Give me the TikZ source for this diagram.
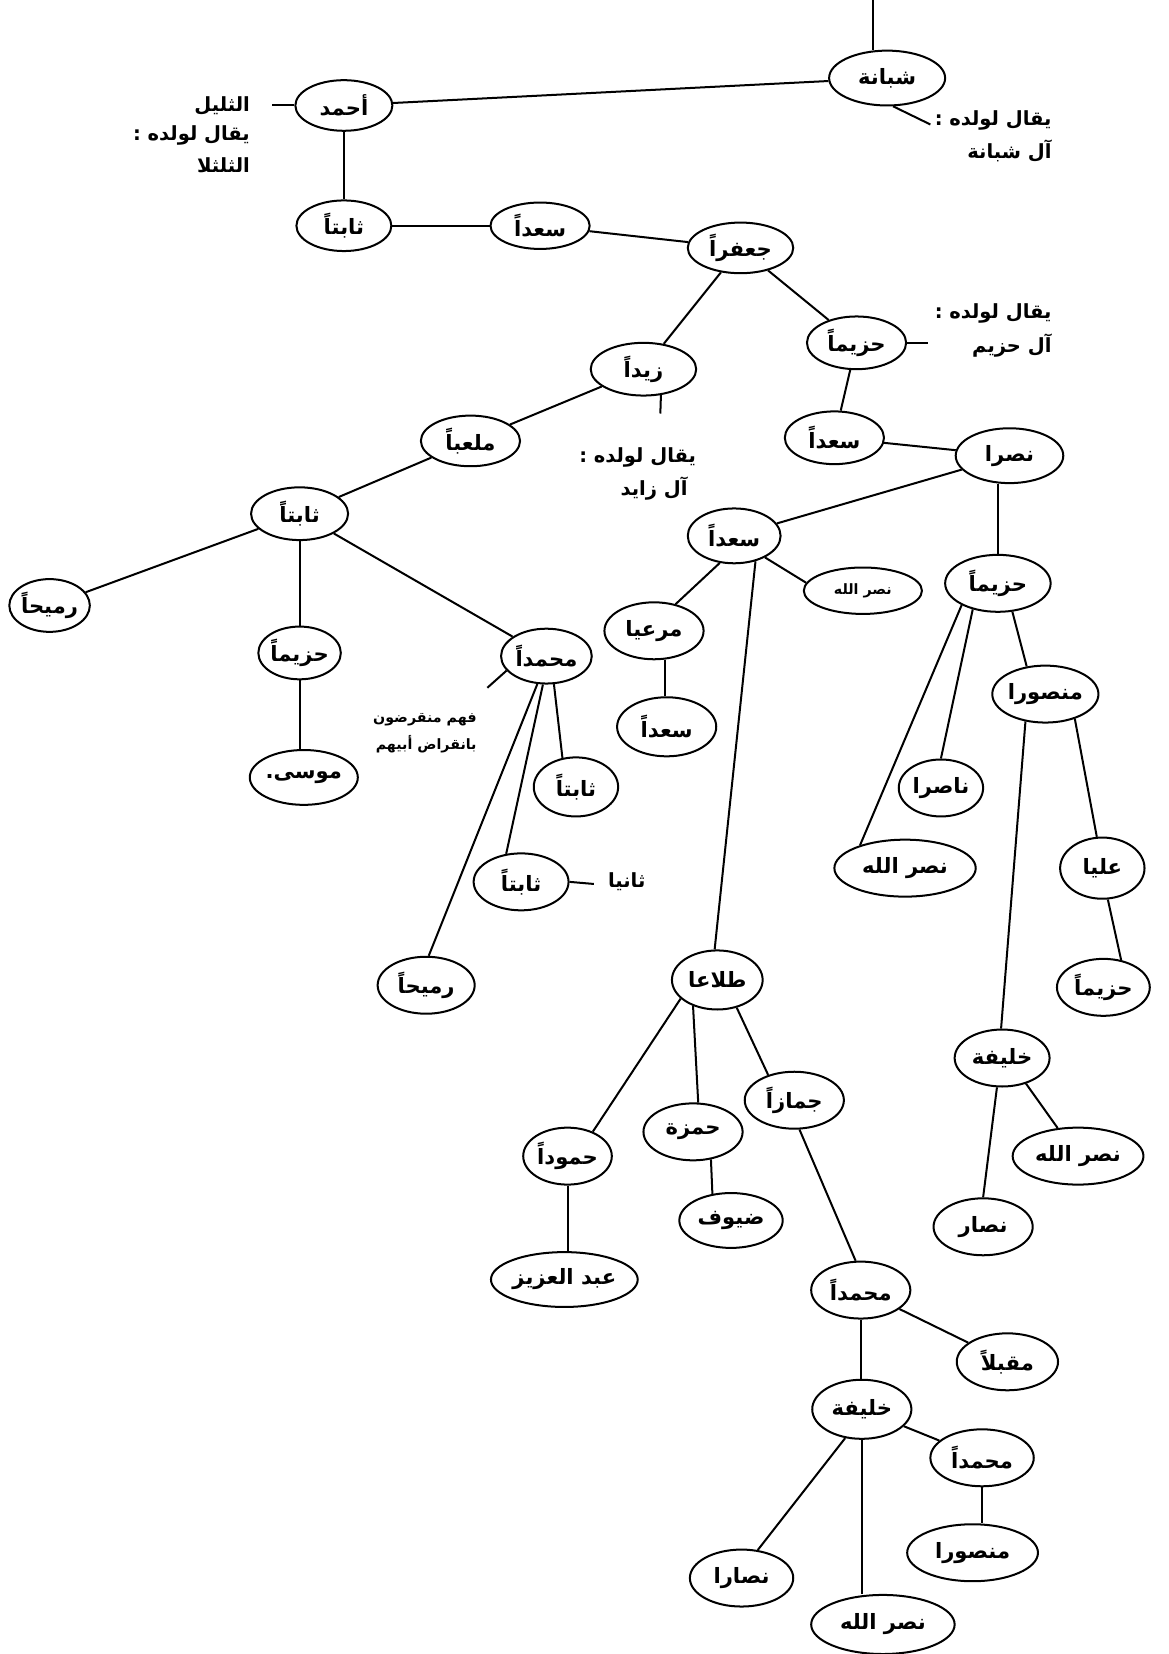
\documentclass[tikz,border=0pt]{standalone}
\usepackage{fontspec}
\usetikzlibrary{shapes.geometric}
\TeXXeTstate=1
\newfontfamily\arabicfont[Script=Arabic]{DejaVu Sans}
\newcommand\artx[1]{\beginR #1\endR}
\tikzset{
  pn/.style={draw, ellipse, line width=1.9pt, inner sep=0pt, font=\arabicfont\bfseries\fontsize{20}{23}\selectfont},
  sz/.style 2 args={minimum width=#1pt, minimum height=#2pt},
  ln/.style={line width=1.9pt},
  note/.style={anchor=east, inner sep=0pt, font=\arabicfont\bfseries\fontsize{18.5}{22}\selectfont},
  smallnote/.style={anchor=east, inner sep=0pt, font=\arabicfont\bfseries\fontsize{13.5}{16}\selectfont},
}
\begin{document}
\begin{tikzpicture}[x=1pt, y=-1pt]
\useasboundingbox[fill=white] (0,0) rectangle (1108,1568);

% nodes
\node[pn, sz={110}{52}] (shabana) at (841,74) {\artx{شبانة}};
\node[pn, sz={92}{48}] (ahmad) at (326,100) {\artx{أحمد}};
\node[pn, sz={90}{48}] (thabitA) at (326,214) {\artx{ثابتاً}};
\node[pn, sz={94}{44}] (saadA) at (512,214) {\artx{سعداً}};
\node[pn, sz={100}{48}] (jafar) at (702,235) {\artx{جعفراً}};
\node[pn, sz={94}{50}] (hazimA) at (812,325) {\artx{حزيماً}};
\node[pn, sz={100}{50}] (zaid) at (610,350) {\artx{زيداً}};
\node[pn, sz={94}{48}] (malab) at (446,418) {\artx{ملعباً}};
\node[pn, sz={92}{50}] (thabitB) at (284,487) {\artx{ثابتاً}};
\node[pn, sz={74}{50}] (rumihA) at (47,574) {\artx{رميحاً}};
\node[pn, sz={76}{50}] (hazimB) at (284,619) {\artx{حزيماً}};
\node[pn, sz={80}{52}] (musa) at (288,737) {\artx{موسى.}};
\node[pn, sz={86}{52}] (muhA) at (518,622) {\artx{محمداً}};
\node[pn, sz={80}{56}] (thabitC) at (546,746) {\artx{ثابتاً}};
\node[pn, sz={90}{54}] (thabitD) at (494,836) {\artx{ثابتاً}};
\node[pn, sz={92}{54}] (rumihB) at (404,934) {\artx{رميحاً}};
\node[pn, sz={94}{50}] (saadB) at (791,415) {\artx{سعداً}};
\node[pn, sz={102}{52}] (nasr) at (957,432) {\artx{نصرا}};
\node[pn, sz={88}{52}] (saadC) at (696,508) {\artx{سعداً}};
\node[pn, sz={112}{44}, font=\arabicfont\bfseries\fontsize{13.5}{16}\selectfont] (nasrallahA) at (818,560) {\artx{نصر الله}};
\node[pn, sz={100}{54}] (hazimC) at (946,553) {\artx{حزيماً}};
\node[pn, sz={94}{54}] (mari) at (620,598) {\artx{مرعيا}};
\node[pn, sz={94}{56}] (saadD) at (632,689) {\artx{سعداً}};
\node[pn, sz={100}{54}] (mansurA) at (991,658) {\artx{منصورا}};
\node[pn, sz={80}{54}] (nasir) at (892,747) {\artx{ناصرا}};
\node[pn, sz={134}{54}] (nasrallahB) at (858,823) {\artx{نصر الله}};
\node[pn, sz={80}{58}] (ali) at (1045,823) {\artx{عليا}};
\node[pn, sz={88}{54}] (hazimD) at (1046,936) {\artx{حزيماً}};
\node[pn, sz={90}{54}] (khalifaA) at (950,1003) {\artx{خليفة}};
\node[pn, sz={124}{54}] (nasrallahC) at (1022,1096) {\artx{نصر الله}};
\node[pn, sz={94}{54}] (nassar) at (932,1163) {\artx{نصار}};
\node[pn, sz={86}{56}] (talla) at (680,929) {\artx{طلاعا}};
\node[pn, sz={84}{54}] (hamud) at (538,1096) {\artx{حموداً}};
\node[pn, sz={128}{52}] (abdulaziz) at (535,1213) {\artx{عبد العزيز}};
\node[pn, sz={94}{54}] (hamza) at (657,1073) {\artx{حمزة}};
\node[pn, sz={98}{52}] (dhuyuf) at (693,1157) {\artx{ضيوف}};
\node[pn, sz={94}{54}] (jammaz) at (753,1043) {\artx{جمازاً}};
\node[pn, sz={94}{54}] (muhB) at (816,1223) {\artx{محمداً}};
\node[pn, sz={96}{54}] (muqbil) at (955,1291) {\artx{مقبلاً}};
\node[pn, sz={94}{56}] (khalifaB) at (817,1336) {\artx{خليفة}};
\node[pn, sz={98}{54}] (muhC) at (931,1382) {\artx{محمداً}};
\node[pn, sz={124}{54}] (mansurB) at (922,1472) {\artx{منصورا}};
\node[pn, sz={98}{54}] (nassara) at (703,1496) {\artx{نصارا}};
\node[pn, sz={136}{56}] (nasrallahD) at (837,1540) {\artx{نصر الله}};

% annotations
\node[note] (nA1) at (237,100) {\artx{الثليل}};
\node[note] (nA2) at (237,128) {\artx{يقال لولده :}};
\node[note] (nA3) at (237,157) {\artx{الثلثلا}};
\node[note] (nB1) at (997,114) {\artx{يقال لولده :}};
\node[note] (nB2) at (997,143) {\artx{آل شبانة}};
\node[note] (nC1) at (997,297) {\artx{يقال لولده :}};
\node[note] (nC2) at (997,328) {\artx{آل حزيم}};
\node[note] (nD1) at (660,434) {\artx{يقال لولده :}};
\node[note] (nD2) at (652,463) {\artx{آل زايد}};
\node[smallnote] (nE1) at (452,682) {\artx{فهم منقرضون}};
\node[smallnote] (nE2) at (452,705) {\artx{بانقراض أبيهم}};
\node[note] (nF) at (612,836) {\artx{ثانيا}};

% tick coordinates
\coordinate (top) at (828,0);
\coordinate (tA) at (258,100);
\coordinate (tB) at (882,118);
\coordinate (tC) at (880,325);
\coordinate (tD) at (626,392);
\coordinate (tE) at (462,652);
\coordinate (tF) at (563,838);

% connectors
\draw[ln] (top) -- (top |- shabana.north);
\draw[ln] (ahmad) -- (shabana);
\draw[ln] (tA) -- (ahmad.west);
\draw[ln] (shabana.-78) -- (tB);
\draw[ln] (ahmad) -- (thabitA);
\draw[ln] (thabitA) -- (saadA);
\draw[ln] (saadA) -- (jafar);
\draw[ln] (jafar) -- (hazimA);
\draw[ln] (jafar) -- (zaid);
\draw[ln] (hazimA.east) -- (tC);
\draw[ln] (zaid.-56) -- (tD);
\draw[ln] (zaid) -- (malab);
\draw[ln] (malab) -- (thabitB);
\draw[ln] (thabitB) -- (rumihA);
\draw[ln] (thabitB) -- (hazimB);
\draw[ln] (thabitB) -- (muhA);
\draw[ln] (hazimB.south) -- (hazimB.south |- musa.north);
\draw[ln] (muhA.-160) -- (tE);
\draw[ln] (muhA.-75) -- (thabitC.115);
\draw[ln] (muhA.-97) -- (thabitD.118);
\draw[ln] (muhA.-108) -- (rumihB.85);
\draw[ln] (thabitD.east) -- (tF);
\draw[ln] (hazimA) -- (saadB);
\draw[ln] (saadB) -- (nasr);
\draw[ln] (nasr) -- (saadC);
\draw[ln] (hazimC.north |- nasr.south) -- (hazimC.north);
\draw[ln] (saadC.-35) -- (nasrallahA.172);
\draw[ln] (saadC.-118) -- (mari.51);
\draw[ln] (saadC.-50) -- (talla.95);
\draw[ln] (mari.-70) -- (mari.-70 |- saadD.north);
\draw[ln] (hazimC.-63) -- (mansurA.124);
\draw[ln] (hazimC.-134) -- (nasir.north);
\draw[ln] (hazimC.-149) -- (nasrallahB.153);
\draw[ln] (mansurA.-40) -- (ali.100);
\draw[ln] (mansurA.-126) -- (khalifaA.92);
\draw[ln] (ali.-80) -- (hazimD.57);
\draw[ln] (khalifaA.-47) -- (nasrallahC.126);
\draw[ln] (khalifaA.-100) -- (nassar.north);
\draw[ln] (talla.-153) -- (hamud.44);
\draw[ln] (talla.-133) -- (hamza.80);
\draw[ln] (talla.-55) -- (jammaz.136);
\draw[ln] (hamza.-57) -- (dhuyuf.125);
\draw[ln] (hamud.south) -- (hamud.south |- abdulaziz.north);
\draw[ln] (jammaz.-80) -- (muhB.100);
\draw[ln] (muhB) -- (muqbil);
\draw[ln] (muhB.south) -- (muhB.south |- khalifaB.north);
\draw[ln] (khalifaB) -- (muhC);
\draw[ln] (muhC.south) -- (muhC.south |- mansurB.north);
\draw[ln] (khalifaB.-120) -- (nassara.60);
\draw[ln] (khalifaB.south) -- (khalifaB.south |- nasrallahD.north);
\end{tikzpicture}
\end{document}
